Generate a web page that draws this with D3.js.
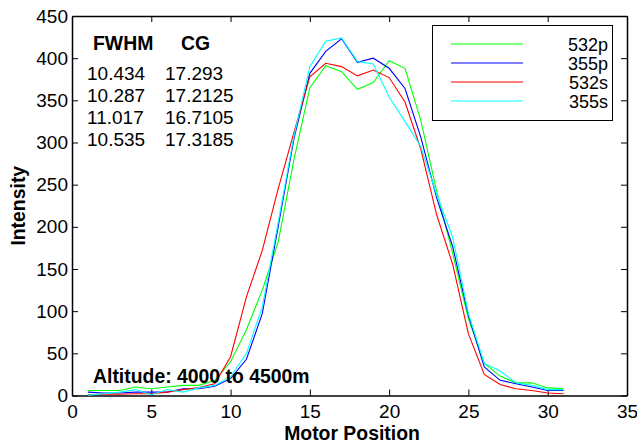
<!DOCTYPE html>
<html>
<head>
<meta charset="utf-8">
<title>Intensity vs Motor Position</title>
<script src="https://cdn.jsdelivr.net/npm/d3@7"></script>
<style>
  body { margin: 0; background: #fff; }
  text { font-family: Arial, "Liberation Sans", sans-serif; fill: #000; }
  .bold { font-weight: bold; }
  .series { fill: none; stroke-width: 1.1px; }
</style>
</head>
<body>
<div id="chart"></div>
<script>
// motor positions 1..31
var positions = [1,2,3,4,5,6,7,8,9,10,11,12,13,14,15,16,17,18,19,20,21,22,23,24,25,26,27,28,29,30,31];

var g532p = [6,6,6,10,8,10,12,12,18,40,78,125,182,280,365,391,384,363,371,397,388,326,242,169,91,38,23,15,15,9,8];
var b355p = [4,3,3,4,4,4,8,8,11,20,43,97,200,305,382,408,423,395,400,388,364,306,234,177,95,34,18,14,10,6,6];
var r532s = [1,1.5,1.5,2,2,4,7,9.5,14,46,117,172,245,312,378,394,390,379,386,377,348,292,214,156,73,25,13,8,6,3,2];
var c355s = [0.5,2,4,7,1,7,4,9,12,22,50,105,205,308,390,420,424,396,393,354,325,295,238,188,97,38,29,15,12,7,7];

var seriesNames = ["532p", "355p", "532s", "355s"];
var seriesColors = ["#00ff00", "#0000ff", "#ff0000", "#00ffff"];
var seriesValues = [g532p, b355p, r532s, c355s];

var fwhm = ["10.434", "10.287", "11.017", "10.535"];
var cg = ["17.293", "17.2125", "16.7105", "17.3185"];

var xTicks = [0,5,10,15,20,25,30,35];
var yTicks = [0,50,100,150,200,250,300,350,400,450];

var width = 637, height = 445;
var svg = d3.select("#chart").append("svg")
    .attr("width", width)
    .attr("height", height);

var x = d3.scaleLinear().domain([0, 35]).range([72, 627]);
var y = d3.scaleLinear().domain([0, 450]).range([395.5, 16]);
var fs = "19px", fsBold = "19.4px", fsLegend = "18px";

function styleAxis(g) {
  g.attr("font-size", fs).attr("font-family", null);
  g.selectAll(".domain").attr("stroke-width", 1.5);
  g.selectAll(".tick line").attr("stroke-width", 1);
}

svg.append("g")
    .attr("transform", "translate(0," + y(0) + ")")
    .call(d3.axisBottom(x).tickValues(xTicks).tickSize(-6).tickSizeOuter(0).tickPadding(9))
    .call(styleAxis);
svg.append("g")
    .attr("transform", "translate(0," + y(450) + ")")
    .call(d3.axisTop(x).tickValues(xTicks).tickSize(-6).tickSizeOuter(0).tickFormat(""))
    .call(styleAxis);
svg.append("g")
    .attr("transform", "translate(" + x(0) + ",0)")
    .call(d3.axisLeft(y).tickValues(yTicks).tickSize(-6).tickSizeOuter(0).tickPadding(4))
    .call(styleAxis);
svg.append("g")
    .attr("transform", "translate(" + x(35) + ",0)")
    .call(d3.axisRight(y).tickValues(yTicks).tickSize(-6).tickSizeOuter(0).tickFormat(""))
    .call(styleAxis);

// lines
var line = d3.line()
    .x(function(d, i) { return x(positions[i]); })
    .y(function(d) { return y(d); });

seriesValues.forEach(function(vals, k) {
  svg.append("path")
    .datum(vals)
    .attr("class", "series")
    .attr("stroke", seriesColors[k])
    .attr("d", line);
});

// axis labels
svg.append("text").attr("class", "bold")
    .attr("x", 352).attr("y", 440)
    .attr("text-anchor", "middle").attr("font-size", fsBold)
    .text("Motor Position");
svg.append("text").attr("class", "bold")
    .attr("transform", "translate(25," + ((y(0) + y(450)) / 2) + ") rotate(-90)")
    .attr("text-anchor", "middle").attr("font-size", fsBold)
    .text("Intensity");

// fit table
svg.append("text").attr("class", "bold").attr("x", 93).attr("y", 50).attr("font-size", fsBold).text("FWHM");
svg.append("text").attr("class", "bold").attr("x", 181).attr("y", 50).attr("font-size", fsBold).text("CG");
fwhm.forEach(function(v, i) {
  svg.append("text").attr("x", 87).attr("y", 80 + i * 22).attr("font-size", fs).text(v);
  svg.append("text").attr("x", 165).attr("y", 80 + i * 22).attr("font-size", fs).text(cg[i]);
});

svg.append("text").attr("class", "bold")
    .attr("x", 93).attr("y", 383).attr("font-size", fsBold)
    .text("Altitude: 4000 to 4500m");

// legend
var lg = svg.append("g");
lg.append("rect")
    .attr("x", 432.5).attr("y", 25.5).attr("width", 180).attr("height", 95)
    .attr("fill", "#fff").attr("stroke", "#000").attr("stroke-width", 1);
seriesNames.forEach(function(name, i) {
  var cy = 44 + i * 19;
  lg.append("line")
    .attr("x1", 451).attr("x2", 523).attr("y1", cy).attr("y2", cy)
    .attr("stroke", seriesColors[i]).attr("stroke-width", 1.1);
  lg.append("text")
    .attr("x", 608).attr("y", cy + 6.5)
    .attr("text-anchor", "end").attr("font-size", fsLegend)
    .text(name);
});
</script>
</body>
</html>
